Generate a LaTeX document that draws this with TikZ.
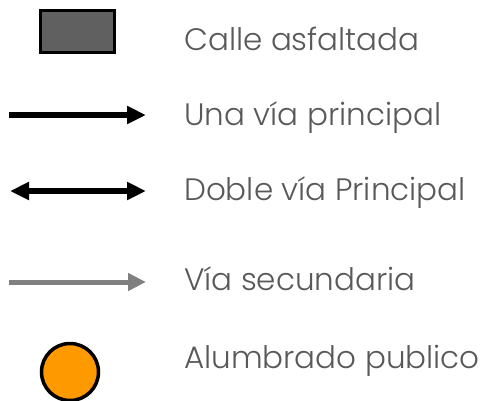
\documentclass[tikz,border=0pt]{standalone}
\usepackage{fontspec}
\setmainfont{Poppins Light}
\usetikzlibrary{arrows.meta}
\definecolor{txtgray}{HTML}{595959}
\definecolor{asphalt}{HTML}{606060}
\definecolor{lamp}{HTML}{FF9900}
\definecolor{secgray}{HTML}{808080}
\tikzset{
  lbl/.style={anchor=base west, inner sep=0pt, text=txtgray, font=\fontsize{31}{37}\selectfont},
  road/.style={line width=6pt, -{Triangle[length=19pt,width=17pt]}},
  droad/.style={line width=6pt, {Triangle[length=19pt,width=17pt]}-{Triangle[length=19pt,width=17pt]}},
  sroad/.style={line width=5pt, draw=secgray, -{Triangle[length=18pt,width=17pt]}}
}
\begin{document}
\begin{tikzpicture}[x=1pt,y=-1pt]
\useasboundingbox (0,0) rectangle (488,400);
\node[draw=black, line width=3pt, fill=asphalt, minimum width=74pt, minimum height=42pt, inner sep=0pt] (calle) at (77.5,31.5) {};
\coordinate (a1s) at (9,115); \coordinate (a1e) at (146,115);
\draw[road] (a1s) -- (a1e);
\coordinate (a2s) at (10,191); \coordinate (a2e) at (146,191);
\draw[droad] (a2s) -- (a2e);
\coordinate (a3s) at (9,282); \coordinate (a3e) at (146,282);
\draw[sroad] (a3s) -- (a3e);
\node[circle, draw=black, line width=3.5pt, fill=lamp, minimum size=57pt, inner sep=0pt] (lamp) at (70,372) {};
\node[lbl] (t1) at (184,50) {Calle asfaltada};
\node[lbl] (t2) at (184,125) {Una vía principal};
\node[lbl] (t3) at (184,200) {Doble vía Principal};
\node[lbl] (t4) at (184,290) {Vía secundaria};
\node[lbl] (t5) at (184,368) {Alumbrado publico};
\end{tikzpicture}
\end{document}
